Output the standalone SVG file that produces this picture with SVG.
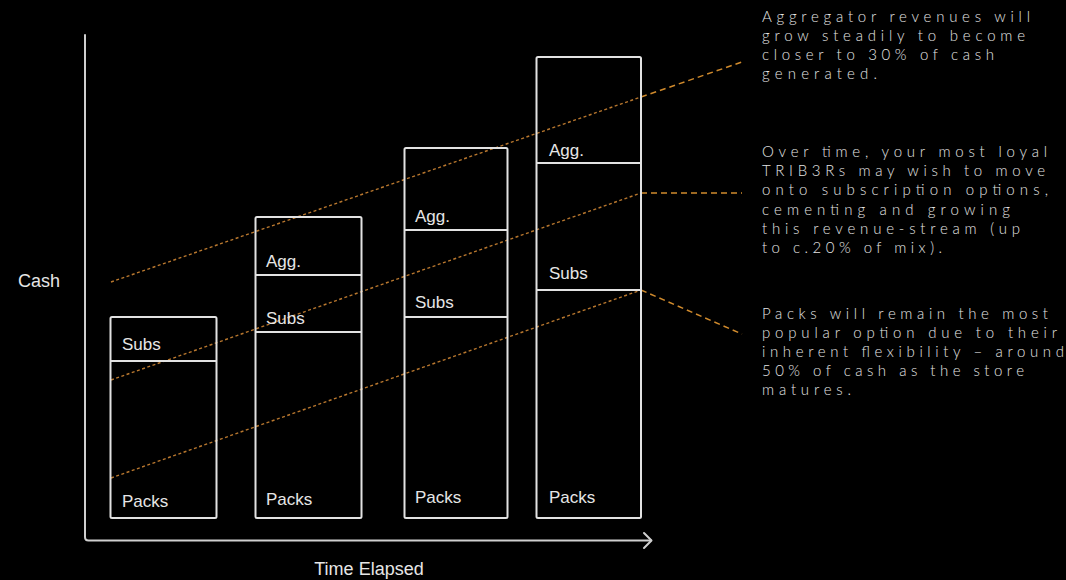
<svg xmlns="http://www.w3.org/2000/svg" width="1066" height="580" viewBox="0 0 1066 580">
  <style>
    .bg { fill: #000000; }
    .axis { fill: none; stroke: #cfcfcf; stroke-width: 2; stroke-linecap: round; stroke-linejoin: round; }
    .bar { fill: none; stroke: #e2e2e2; stroke-width: 2; }
    .div { stroke: #e2e2e2; stroke-width: 2; }
    .lbl { font-family: "Liberation Sans", Arial, sans-serif; font-size: 17px; fill: #e6e6e6; }
    .axlbl { font-family: "Liberation Sans", Arial, sans-serif; font-size: 18px; fill: #e6e6e6; }
    .note { font-family: Lato, "Liberation Sans", sans-serif; font-weight: 300; font-size: 15px; fill: #e4e4e4; }
    .trend { fill: none; stroke: #b8772e; stroke-width: 1.4; stroke-dasharray: 3 2.5; }
    .call { fill: none; stroke: #d08a2c; stroke-width: 1.5; stroke-dasharray: 6 4; }
  </style>

  <rect class="bg" x="0" y="0" width="1066" height="580"/>

  <!-- axes -->
  <g id="axes">
    <path class="axis" d="M85 35 V537 Q85 540.5 88.5 540.5 H651"/>
    <path class="axis" d="M644 533 L651.5 540.5 L644 548"/>
    <text class="axlbl" x="18" y="287">Cash</text>
    <text class="axlbl" x="369" y="575" text-anchor="middle">Time Elapsed</text>
  </g>

  <!-- trend and callout lines -->
  <g id="connectors">
    <path class="trend" d="M111 282 L641 97"/>
    <path class="call" d="M641 97 L742 62"/>
    <path class="trend" d="M111 380 L641 193"/>
    <path class="call" d="M641 193 H742"/>
    <path class="trend" d="M111 478 L641 290"/>
    <path class="call" d="M641 290 L742 334"/>
  </g>

  <!-- stacked bars -->
  <g id="bar1">
    <rect class="bar" x="110.5" y="317" width="106" height="201" rx="1.5"/>
    <line class="div" x1="110.5" y1="361" x2="216.5" y2="361"/>
    <text class="lbl" x="122" y="350">Subs</text>
    <text class="lbl" x="122" y="507">Packs</text>
  </g>

  <g id="bar2">
    <rect class="bar" x="255.5" y="217" width="106" height="301" rx="1.5"/>
    <line class="div" x1="255.5" y1="275" x2="361.5" y2="275"/>
    <line class="div" x1="255.5" y1="332" x2="361.5" y2="332"/>
    <text class="lbl" x="266" y="267">Agg.</text>
    <text class="lbl" x="266" y="324">Subs</text>
    <text class="lbl" x="266" y="505">Packs</text>
  </g>

  <g id="bar3">
    <rect class="bar" x="404.5" y="148" width="103" height="370" rx="1.5"/>
    <line class="div" x1="404.5" y1="230" x2="507.5" y2="230"/>
    <line class="div" x1="404.5" y1="317" x2="507.5" y2="317"/>
    <text class="lbl" x="415" y="222">Agg.</text>
    <text class="lbl" x="415" y="308">Subs</text>
    <text class="lbl" x="415" y="503">Packs</text>
  </g>

  <g id="bar4">
    <rect class="bar" x="536.5" y="57" width="104.5" height="461" rx="1.5"/>
    <line class="div" x1="536.5" y1="163" x2="641" y2="163"/>
    <line class="div" x1="536.5" y1="290" x2="641" y2="290"/>
    <text class="lbl" x="549" y="156">Agg.</text>
    <text class="lbl" x="549" y="279">Subs</text>
    <text class="lbl" x="549" y="503">Packs</text>
  </g>

  <!-- annotations -->
  <g id="note-aggregator" class="note">
    <text x="762" y="22" textLength="268" lengthAdjust="spacing">Aggregator revenues will</text>
    <text x="762" y="41" textLength="263" lengthAdjust="spacing">grow steadily to become</text>
    <text x="762" y="60" textLength="232" lengthAdjust="spacing">closer to 30% of cash</text>
    <text x="762" y="79" textLength="115" lengthAdjust="spacing">generated.</text>
  </g>

  <g id="note-subscriptions" class="note">
    <text x="762" y="157" textLength="285" lengthAdjust="spacing">Over time, your most loyal</text>
    <text x="762" y="176" textLength="283" lengthAdjust="spacing">TRIB3Rs may wish to move</text>
    <text x="762" y="195" textLength="286" lengthAdjust="spacing">onto subscription options,</text>
    <text x="762" y="215" textLength="248" lengthAdjust="spacing">cementing and growing</text>
    <text x="762" y="234" textLength="258" lengthAdjust="spacing">this revenue-stream (up</text>
    <text x="762" y="253" textLength="180" lengthAdjust="spacing">to c.20% of mix).</text>
  </g>

  <g id="note-packs" class="note">
    <text x="762" y="319" textLength="286" lengthAdjust="spacing">Packs will remain the most</text>
    <text x="762" y="338" textLength="295" lengthAdjust="spacing">popular option due to their</text>
    <text x="762" y="357" textLength="302" lengthAdjust="spacing">inherent flexibility – around</text>
    <text x="762" y="376" textLength="262" lengthAdjust="spacing">50% of cash as the store</text>
    <text x="762" y="395" textLength="89" lengthAdjust="spacing">matures.</text>
  </g>
</svg>
